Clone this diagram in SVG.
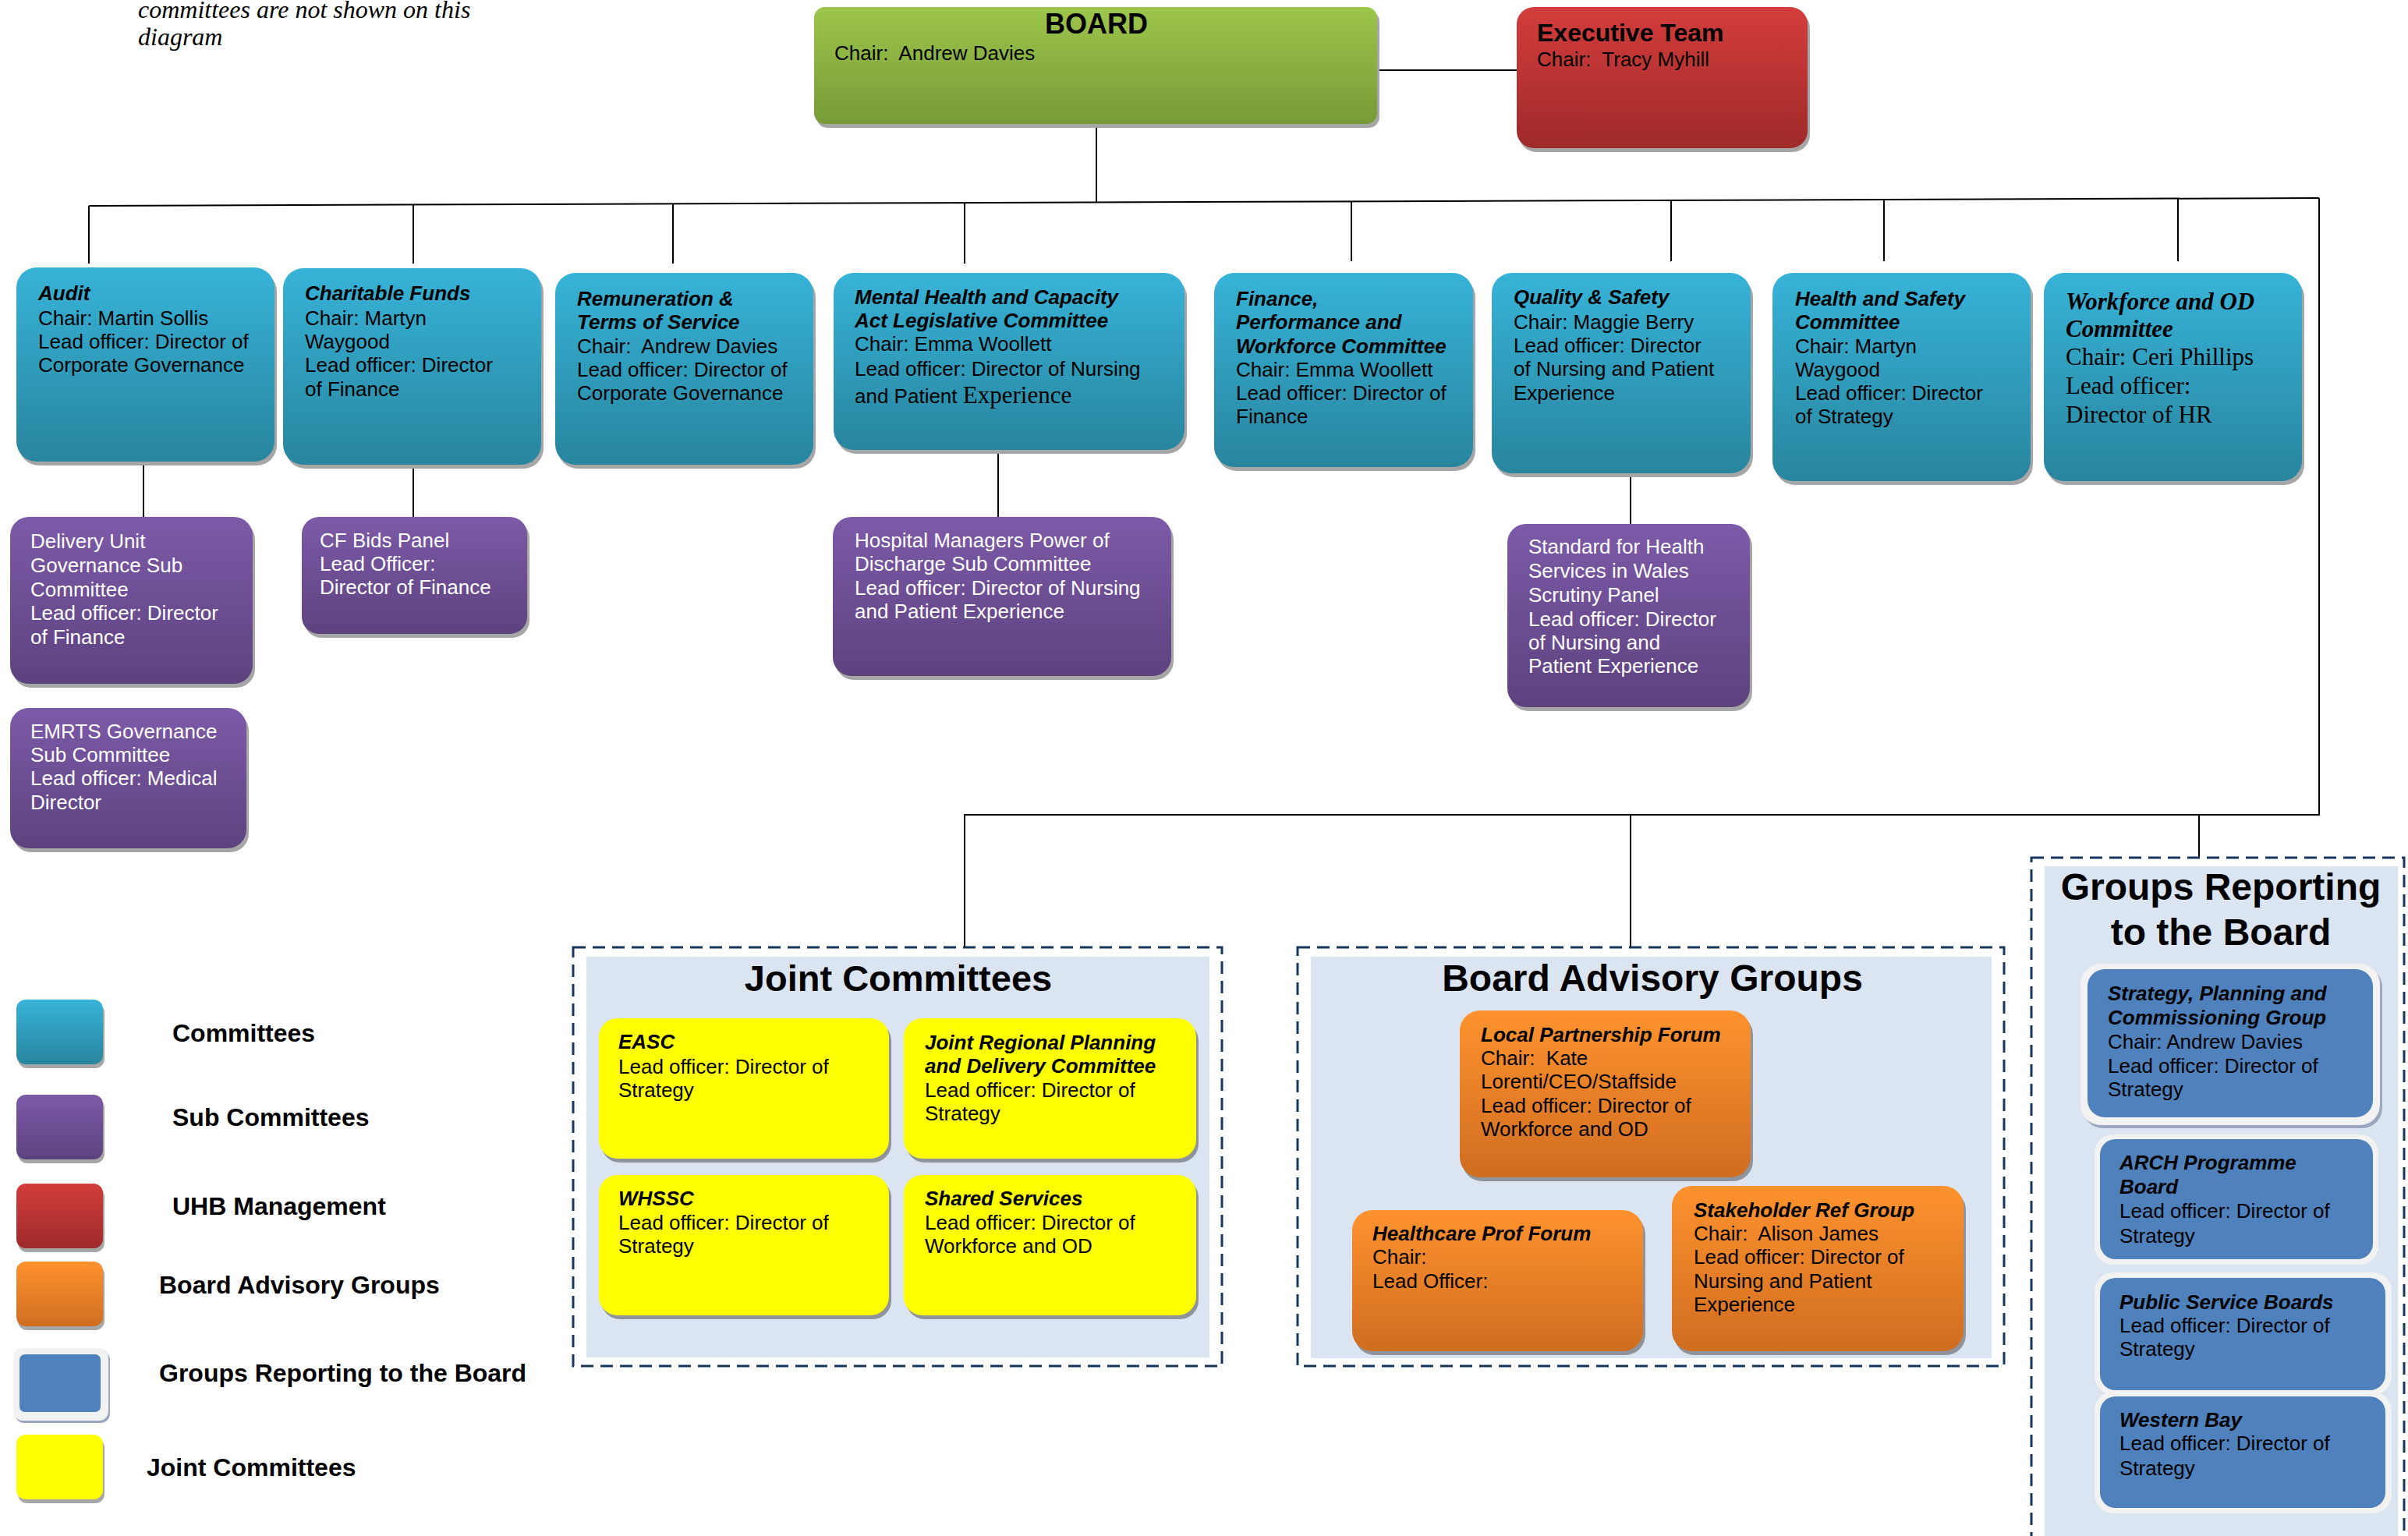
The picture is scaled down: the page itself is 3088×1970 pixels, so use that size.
<svg xmlns="http://www.w3.org/2000/svg" width="3088" height="1970" viewBox="0 0 3088 1970">
<defs>
<linearGradient id="gBlue" x1="0" y1="0" x2="0" y2="1"><stop offset="0" stop-color="#37b3d8"/><stop offset="1" stop-color="#28859e"/></linearGradient>
<linearGradient id="gPurple" x1="0" y1="0" x2="0" y2="1"><stop offset="0" stop-color="#7d5aa8"/><stop offset="1" stop-color="#5d427f"/></linearGradient>
<linearGradient id="gRed" x1="0" y1="0" x2="0" y2="1"><stop offset="0" stop-color="#d33d3b"/><stop offset="1" stop-color="#9e2a2a"/></linearGradient>
<linearGradient id="gGreen" x1="0" y1="0" x2="0" y2="1"><stop offset="0" stop-color="#9dc64b"/><stop offset="1" stop-color="#779a37"/></linearGradient>
<linearGradient id="gOrange" x1="0" y1="0" x2="0" y2="1"><stop offset="0" stop-color="#fe922e"/><stop offset="1" stop-color="#cf6d20"/></linearGradient>
</defs>
<style>
text{font-family:"Liberation Sans",Arial,sans-serif;font-size:26px;fill:#000}
.h{font-weight:bold;font-style:italic}
.w{fill:#fff}
.serif{font-family:"Liberation Serif","Times New Roman",serif}
.sh{fill:#a6a6a6}
.shy{fill:#8f949c}
.blue{fill:url(#gBlue)}
.purple{fill:url(#gPurple)}
.orange{fill:url(#gOrange)}
.yellow{fill:#ffff00}
.grp{fill:#4f81bd}
.grpb{fill:#f2f2f2}
.cont{fill:#dbe5f1}
.dash{fill:none;stroke:#17365d;stroke-width:3;stroke-dasharray:16 9}
.conn line,.conn polyline{stroke:#000;stroke-width:2;fill:none}
.leg{font-weight:bold;font-size:32px}
.big{font-weight:bold;font-size:48px;text-anchor:middle}
</style>

<text class="serif" style="font-style:italic;font-size:32px" x="177" y="23">committees are not shown on this</text>
<text class="serif" style="font-style:italic;font-size:32px" x="177" y="58">diagram</text>

<g class="conn" id="connectors">
<line x1="1766" y1="90" x2="1945" y2="90"/>
<line x1="1406" y1="159" x2="1406" y2="260"/>
<line x1="114" y1="264" x2="2974" y2="254"/>
<line x1="114" y1="264" x2="114" y2="338"/>
<line x1="530" y1="262.5" x2="530" y2="338"/>
<line x1="863" y1="261.4" x2="863" y2="338"/>
<line x1="1237" y1="260" x2="1237" y2="338"/>
<line x1="1733" y1="258.3" x2="1733" y2="335"/>
<line x1="2143" y1="257" x2="2143" y2="335"/>
<line x1="2416" y1="256" x2="2416" y2="335"/>
<line x1="2793" y1="254.6" x2="2793" y2="335"/>
<polyline points="2974,254 2974,1045 1237,1045 1237,1215"/>
<line x1="2091" y1="1045" x2="2091" y2="1215"/>
<line x1="2820" y1="1045" x2="2820" y2="1099"/>
<line x1="184" y1="597" x2="184" y2="663"/>
<line x1="530" y1="600" x2="530" y2="672"/>
<line x1="1280" y1="580" x2="1280" y2="663"/>
<line x1="2091" y1="610" x2="2091" y2="672"/>
</g>

<g id="board">
<rect class="sh" x="1047" y="14" width="722" height="150" rx="14"/>
<rect x="1044" y="9" width="722" height="150" rx="14" fill="url(#gGreen)"/>
<text x="1406" y="43" style="font-weight:bold;font-size:36px;text-anchor:middle">BOARD</text>
<text x="1070" y="77">Chair:&#160; Andrew Davies</text>
</g>

<g id="exec">
<rect class="sh" x="1948" y="14" width="373" height="181" rx="22"/>
<rect x="1945" y="9" width="373" height="181" rx="22" fill="url(#gRed)"/>
<text x="1971" y="53" style="font-weight:bold;font-size:32px">Executive Team</text>
<text x="1971" y="85">Chair:&#160; Tracy Myhill</text>
</g>

<g id="audit">
<rect class="sh" x="24" y="348" width="331" height="249" rx="26"/>
<rect class="blue" x="21" y="343" width="331" height="249" rx="26"/>
<text class="h" x="49" y="385">Audit</text>
<text x="49" y="417">Chair: Martin Sollis</text>
<text x="49" y="447">Lead officer: Director of</text>
<text x="49" y="477">Corporate Governance</text>
</g>

<g id="charitable">
<rect class="sh" x="366" y="349" width="331" height="252" rx="26"/>
<rect class="blue" x="363" y="344" width="331" height="252" rx="26"/>
<text class="h" x="391" y="385">Charitable Funds</text>
<text x="391" y="417">Chair: Martyn</text>
<text x="391" y="447">Waygood</text>
<text x="391" y="477">Lead officer: Director</text>
<text x="391" y="508">of Finance</text>
</g>

<g id="remuneration">
<rect class="sh" x="715" y="355" width="331" height="246" rx="26"/>
<rect class="blue" x="712" y="350" width="331" height="246" rx="26"/>
<text class="h" x="740" y="392">Remuneration &amp;</text>
<text class="h" x="740" y="422">Terms of Service</text>
<text x="740" y="453">Chair:&#160; Andrew Davies</text>
<text x="740" y="483">Lead officer: Director of</text>
<text x="740" y="513">Corporate Governance</text>
</g>

<g id="mentalhealth">
<rect class="sh" x="1072" y="355" width="450" height="227" rx="26"/>
<rect class="blue" x="1069" y="350" width="450" height="227" rx="26"/>
<text class="h" x="1096" y="390">Mental Health and Capacity</text>
<text class="h" x="1096" y="420">Act Legislative Committee</text>
<text x="1096" y="450">Chair: Emma Woollett</text>
<text x="1096" y="482">Lead officer: Director of Nursing</text>
<text x="1096" y="517">and Patient <tspan class="serif" style="font-size:31px">Experience</tspan></text>
</g>

<g id="finance">
<rect class="sh" x="1560" y="355" width="332" height="249" rx="26"/>
<rect class="blue" x="1557" y="350" width="332" height="249" rx="26"/>
<text class="h" x="1585" y="392">Finance,</text>
<text class="h" x="1585" y="422">Performance and</text>
<text class="h" x="1585" y="453">Workforce Committee</text>
<text x="1585" y="483">Chair: Emma Woollett</text>
<text x="1585" y="513">Lead officer: Director of</text>
<text x="1585" y="543">Finance</text>
</g>

<g id="quality">
<rect class="sh" x="1916" y="355" width="332" height="257" rx="26"/>
<rect class="blue" x="1913" y="350" width="332" height="257" rx="26"/>
<text class="h" x="1941" y="390">Quality &amp; Safety</text>
<text x="1941" y="422">Chair: Maggie Berry</text>
<text x="1941" y="452">Lead officer: Director</text>
<text x="1941" y="482">of Nursing and Patient</text>
<text x="1941" y="513">Experience</text>
</g>

<g id="healthsafety">
<rect class="sh" x="2276" y="355" width="331" height="267" rx="26"/>
<rect class="blue" x="2273" y="350" width="331" height="267" rx="26"/>
<text class="h" x="2302" y="392">Health and Safety</text>
<text class="h" x="2302" y="422">Committee</text>
<text x="2302" y="453">Chair: Martyn</text>
<text x="2302" y="483">Waygood</text>
<text x="2302" y="513">Lead officer: Director</text>
<text x="2302" y="543">of Strategy</text>
</g>

<g id="workforce">
<rect class="sh" x="2624" y="355" width="331" height="267" rx="26"/>
<rect class="blue" x="2621" y="350" width="331" height="267" rx="26"/>
<text class="h serif" style="font-size:31px" x="2649" y="397">Workforce and OD</text>
<text class="h serif" style="font-size:31px" x="2649" y="432">Committee</text>
<text class="serif" style="font-size:31px" x="2649" y="468">Chair: Ceri Phillips</text>
<text class="serif" style="font-size:31px" x="2649" y="505">Lead officer:</text>
<text class="serif" style="font-size:31px" x="2649" y="542">Director of HR</text>
</g>

<g id="delivery">
<rect class="sh" x="16" y="668" width="311" height="214" rx="24"/>
<rect class="purple" x="13" y="663" width="311" height="214" rx="24"/>
<text class="w" x="39" y="703">Delivery Unit</text>
<text class="w" x="39" y="734">Governance Sub</text>
<text class="w" x="39" y="765">Committee</text>
<text class="w" x="39" y="795">Lead officer: Director</text>
<text class="w" x="39" y="826">of Finance</text>
</g>

<g id="emrts">
<rect class="sh" x="16" y="913" width="303" height="180" rx="24"/>
<rect class="purple" x="13" y="908" width="303" height="180" rx="24"/>
<text class="w" x="39" y="947">EMRTS Governance</text>
<text class="w" x="39" y="977">Sub Committee</text>
<text class="w" x="39" y="1007">Lead officer: Medical</text>
<text class="w" x="39" y="1038">Director</text>
</g>

<g id="cfbids">
<rect class="sh" x="390" y="668" width="289" height="150" rx="22"/>
<rect class="purple" x="387" y="663" width="289" height="150" rx="22"/>
<text class="w" x="410" y="702">CF Bids Panel</text>
<text class="w" x="410" y="732">Lead Officer:</text>
<text class="w" x="410" y="762">Director of Finance</text>
</g>

<g id="hospital">
<rect class="sh" x="1071" y="668" width="434" height="204" rx="24"/>
<rect class="purple" x="1068" y="663" width="434" height="204" rx="24"/>
<text class="w" x="1096" y="702">Hospital Managers Power of</text>
<text class="w" x="1096" y="732">Discharge Sub Committee</text>
<text class="w" x="1096" y="763">Lead officer: Director of Nursing</text>
<text class="w" x="1096" y="793">and Patient Experience</text>
</g>

<g id="standard">
<rect class="sh" x="1936" y="677" width="311" height="235" rx="24"/>
<rect class="purple" x="1933" y="672" width="311" height="235" rx="24"/>
<text class="w" x="1960" y="710">Standard for Health</text>
<text class="w" x="1960" y="741">Services in Wales</text>
<text class="w" x="1960" y="772">Scrutiny Panel</text>
<text class="w" x="1960" y="803">Lead officer: Director</text>
<text class="w" x="1960" y="833">of Nursing and</text>
<text class="w" x="1960" y="863">Patient Experience</text>
</g>

<g id="legend">
<rect class="sh" x="23" y="1287" width="111" height="83" rx="12"/>
<rect class="blue" x="21" y="1282" width="111" height="83" rx="12"/>
<text class="leg" x="221" y="1336">Committees</text>
<rect class="sh" x="23" y="1409" width="111" height="83" rx="12"/>
<rect class="purple" x="21" y="1404" width="111" height="83" rx="12"/>
<text class="leg" x="221" y="1444">Sub Committees</text>
<rect class="sh" x="23" y="1523" width="111" height="83" rx="12"/>
<rect x="21" y="1518" width="111" height="83" rx="12" fill="url(#gRed)"/>
<text class="leg" x="221" y="1558">UHB Management</text>
<rect class="sh" x="23" y="1623" width="111" height="83" rx="12"/>
<rect class="orange" x="21" y="1618" width="111" height="83" rx="12"/>
<text class="leg" x="204" y="1659">Board Advisory Groups</text>
<rect x="19" y="1732" width="122" height="93" rx="12" fill="#9aa7bf"/>
<rect class="grpb" x="17" y="1729" width="122" height="93" rx="12"/>
<rect class="grp" x="25" y="1737" width="104" height="74" rx="7"/>
<text class="leg" x="204" y="1772">Groups Reporting to the Board</text>
<rect class="sh" x="23" y="1845" width="111" height="83" rx="12"/>
<rect class="yellow" x="21" y="1840" width="111" height="83" rx="12"/>
<text class="leg" x="188" y="1893">Joint Committees</text>
</g>

<g id="joint-committees">
<rect class="cont" x="752" y="1227" width="799" height="514"/>
<rect class="dash" x="735" y="1215" width="832" height="537"/>
<text class="big" style="font-size:47px" x="1152" y="1271">Joint Committees</text>
</g>
<g id="easc">
<rect class="shy" x="771" y="1311" width="372" height="180" rx="24"/>
<rect class="yellow" x="768" y="1306" width="372" height="180" rx="24"/>
<text class="h" x="793" y="1345">EASC</text>
<text x="793" y="1377">Lead officer: Director of</text>
<text x="793" y="1407">Strategy</text>
</g>
<g id="jrpdc">
<rect class="shy" x="1162" y="1311" width="375" height="180" rx="24"/>
<rect class="yellow" x="1159" y="1306" width="375" height="180" rx="24"/>
<text class="h" x="1186" y="1346">Joint Regional Planning</text>
<text class="h" x="1186" y="1376">and Delivery Committee</text>
<text x="1186" y="1407">Lead officer: Director of</text>
<text x="1186" y="1437">Strategy</text>
</g>
<g id="whssc">
<rect class="shy" x="771" y="1512" width="372" height="180" rx="24"/>
<rect class="yellow" x="768" y="1507" width="372" height="180" rx="24"/>
<text class="h" x="793" y="1546">WHSSC</text>
<text x="793" y="1577">Lead officer: Director of</text>
<text x="793" y="1607">Strategy</text>
</g>
<g id="shared">
<rect class="shy" x="1162" y="1512" width="375" height="180" rx="24"/>
<rect class="yellow" x="1159" y="1507" width="375" height="180" rx="24"/>
<text class="h" x="1186" y="1546">Shared Services</text>
<text x="1186" y="1577">Lead officer: Director of</text>
<text x="1186" y="1607">Workforce and OD</text>
</g>

<g id="board-advisory">
<rect class="cont" x="1681" y="1227" width="873" height="515"/>
<rect class="dash" x="1664" y="1215" width="906" height="537"/>
<text class="big" x="2119" y="1271">Board Advisory Groups</text>
</g>
<g id="lpf">
<rect class="shy" x="1875" y="1301" width="373" height="214" rx="26"/>
<rect class="orange" x="1872" y="1296" width="373" height="214" rx="26"/>
<text class="h" x="1899" y="1336">Local Partnership Forum</text>
<text x="1899" y="1366">Chair:&#160; Kate</text>
<text x="1899" y="1396">Lorenti/CEO/Staffside</text>
<text x="1899" y="1427">Lead officer: Director of</text>
<text x="1899" y="1457">Workforce and OD</text>
</g>
<g id="hpf">
<rect class="shy" x="1737" y="1557" width="373" height="181" rx="26"/>
<rect class="orange" x="1734" y="1552" width="373" height="181" rx="26"/>
<text class="h" x="1760" y="1591">Healthcare Prof Forum</text>
<text x="1760" y="1621">Chair:</text>
<text x="1760" y="1652">Lead Officer:</text>
</g>
<g id="srg">
<rect class="shy" x="2147" y="1526" width="374" height="212" rx="26"/>
<rect class="orange" x="2144" y="1521" width="374" height="212" rx="26"/>
<text class="h" x="2172" y="1561">Stakeholder Ref Group</text>
<text x="2172" y="1591">Chair:&#160; Alison James</text>
<text x="2172" y="1621">Lead officer: Director of</text>
<text x="2172" y="1652">Nursing and Patient</text>
<text x="2172" y="1682">Experience</text>
</g>

<g id="groups-reporting">
<rect class="cont" x="2622" y="1111" width="453" height="880"/>
<rect class="dash" x="2605" y="1100" width="478" height="900"/>
<text class="big" x="2848" y="1154">Groups Reporting</text>
<text class="big" x="2848" y="1212">to the Board</text>
</g>
<g id="spcg">
<rect x="2671" y="1240" width="384" height="207" rx="26" fill="#9aa7bf"/>
<rect class="grpb" x="2668" y="1236" width="384" height="207" rx="26"/>
<rect class="grp" x="2677" y="1243" width="366" height="190" rx="22"/>
<text class="h" x="2703" y="1283">Strategy, Planning and</text>
<text class="h" x="2703" y="1314">Commissioning Group</text>
<text x="2703" y="1345">Chair: Andrew Davies</text>
<text x="2703" y="1376">Lead officer: Director of</text>
<text x="2703" y="1406">Strategy</text>
</g>
<g id="arch">
<rect class="grpb" x="2686" y="1455" width="364" height="167" rx="24"/>
<rect class="grp" x="2693" y="1461" width="350" height="154" rx="20"/>
<text class="h" x="2718" y="1500">ARCH Programme</text>
<text class="h" x="2718" y="1531">Board</text>
<text x="2718" y="1562">Lead officer: Director of</text>
<text x="2718" y="1594">Strategy</text>
</g>
<g id="psb">
<rect class="grpb" x="2686" y="1632" width="381" height="157" rx="24"/>
<rect class="grp" x="2693" y="1639" width="366" height="144" rx="20"/>
<text class="h" x="2718" y="1679">Public Service Boards</text>
<text x="2718" y="1709">Lead officer: Director of</text>
<text x="2718" y="1739">Strategy</text>
</g>
<g id="westernbay">
<rect class="grpb" x="2686" y="1785" width="381" height="156" rx="24"/>
<rect class="grp" x="2693" y="1791" width="366" height="143" rx="20"/>
<text class="h" x="2718" y="1830">Western Bay</text>
<text x="2718" y="1860">Lead officer: Director of</text>
<text x="2718" y="1892">Strategy</text>
</g>
</svg>
